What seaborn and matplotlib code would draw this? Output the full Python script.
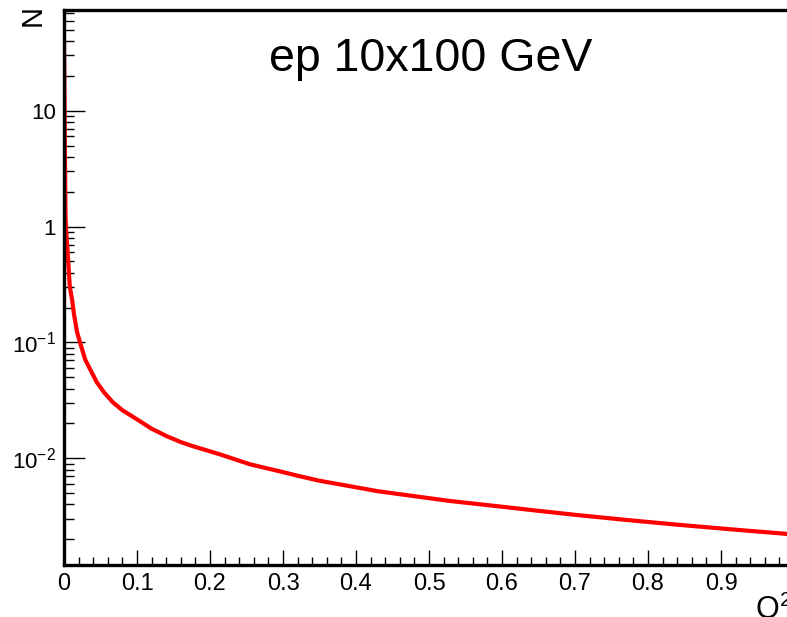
import matplotlib
matplotlib.use("Agg")
import matplotlib.pyplot as plt
import matplotlib.ticker as mticker
import seaborn as sns
import pandas as pd

# Q^2 distribution (log scale in N)
q2 = [0.0, 0.002, 0.003, 0.005, 0.008, 0.011, 0.014, 0.018, 0.022, 0.029,
      0.035, 0.045, 0.055, 0.067, 0.080, 0.100, 0.120, 0.141, 0.160, 0.177,
      0.214, 0.255, 0.300, 0.323, 0.350, 0.392, 0.430, 0.460, 0.529, 0.597,
      0.650, 0.707, 0.770, 0.844, 0.920, 1.0]
counts = [41.0, 1.3, 0.90, 0.60, 0.30, 0.235, 0.170, 0.122, 0.100, 0.0713,
          0.0600, 0.0452, 0.0370, 0.0304, 0.0260, 0.0217, 0.0180, 0.0155, 0.0138, 0.0127,
          0.0108, 0.00887, 0.0076, 0.0070, 0.0064, 0.00574, 0.0052, 0.0049, 0.00428, 0.00384,
          0.00352, 0.00322, 0.00294, 0.00266, 0.00242, 0.0022]

x_ticks = [0, 0.1, 0.2, 0.3, 0.4, 0.5, 0.6, 0.7, 0.8, 0.9]
x_tick_labels = ["0", "0.1", "0.2", "0.3", "0.4", "0.5", "0.6", "0.7", "0.8", "0.9"]
y_ticks = [0.01, 0.1, 1, 10]
y_tick_labels = [r"$10^{-2}$", r"$10^{-1}$", "1", "10"]

title_text = "ep 10x100 GeV"
x_title = r"Q$^2$"
y_title = "N"

sns.set_theme(style="white")
plt.rcParams["font.family"] = ["Liberation Sans", "DejaVu Sans"]
plt.rcParams["mathtext.fontset"] = "custom"
plt.rcParams["mathtext.rm"] = "Liberation Sans"
plt.rcParams["mathtext.it"] = "Liberation Sans:italic"
plt.rcParams["axes.unicode_minus"] = True
plt.rcParams["text.color"] = "black"
plt.rcParams["xtick.color"] = "black"
plt.rcParams["ytick.color"] = "black"
plt.rcParams["xtick.labelcolor"] = "black"
plt.rcParams["ytick.labelcolor"] = "black"

fig = plt.figure(figsize=(7.87, 6.17), dpi=100)
ax = fig.add_axes([64 / 787, 1 - 565 / 617, 730 / 787, 555 / 617])

df = pd.DataFrame({"q2": q2, "n": counts})
sns.lineplot(data=df, x="q2", y="n", ax=ax, color="#ff0000", linewidth=3.0,
             estimator=None, sort=False)

ax.set_yscale("log")
ax.set_xlim(0, 1.0)
ax.set_ylim(1.2e-3, 74)

ax.xaxis.set_major_locator(mticker.FixedLocator(x_ticks))
ax.xaxis.set_major_formatter(mticker.FixedFormatter(x_tick_labels))
ax.xaxis.set_minor_locator(mticker.MultipleLocator(0.02))
ax.yaxis.set_major_locator(mticker.FixedLocator(y_ticks))
ax.yaxis.set_major_formatter(mticker.FixedFormatter(y_tick_labels))
ax.yaxis.set_minor_locator(mticker.LogLocator(base=10, subs=range(2, 10), numticks=20))
ax.yaxis.set_minor_formatter(mticker.NullFormatter())

ax.tick_params(axis="x", which="major", direction="in", length=11, width=1.0,
               color="black", labelcolor="black", labelsize=17, pad=6,
               bottom=True, top=False)
ax.tick_params(axis="x", which="minor", direction="in", length=5.5, width=1.0,
               color="black", bottom=True, top=False)
ax.tick_params(axis="y", which="major", direction="in", length=15, width=1.0,
               color="black", labelcolor="black", labelsize=16, pad=6,
               left=True, right=False)
ax.tick_params(axis="y", which="minor", direction="in", length=7.5, width=1.0,
               color="black", left=True, right=False)

for side in ["left", "bottom", "top", "right"]:
    ax.spines[side].set_color("black")
    ax.spines[side].set_linewidth(2.4)

ax.set_xlabel("")
ax.set_ylabel("")
ax.grid(False)

fig.text(431 / 787, 1 - 71 / 617, title_text, fontsize=33.5, color="black",
         ha="center", va="baseline")
fig.text(755 / 787, 1 - 590 / 617, x_title, fontsize=22, color="black",
         ha="left", va="top")
fig.text(33 / 787, 1 - 5 / 617, y_title, fontsize=21, color="black",
         rotation=90, ha="center", va="top")

fig.savefig("out.png", dpi=100)
